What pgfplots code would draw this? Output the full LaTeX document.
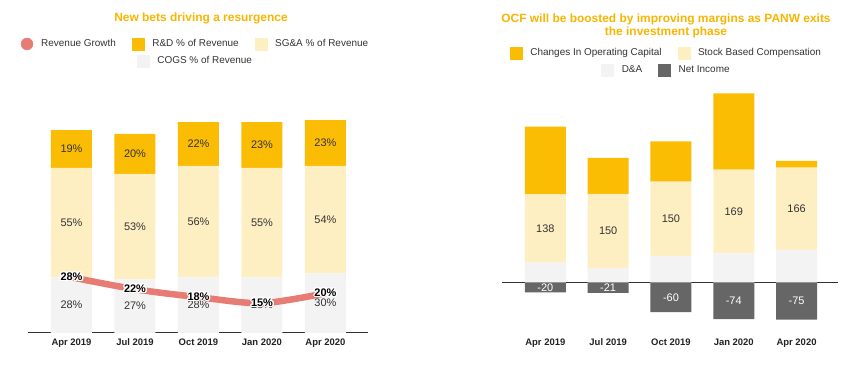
\documentclass[border=0pt]{standalone}
\usepackage{pgfplots}
\pgfplotsset{compat=1.18}
\usepackage{pgfplotstable}
\usepackage{fontspec}
\setmainfont{Liberation Sans}
\usepackage{contour}
\contourlength{1.3pt}
\contournumber{12}
\pgfkeys{/pgf/number format/assume math mode=true}

\definecolor{cYel}{HTML}{FBBC04}
\definecolor{cLight}{HTML}{FEEFC3}
\definecolor{cGray}{HTML}{F3F3F3}
\definecolor{cDark}{HTML}{666666}
\definecolor{cLine}{HTML}{E67C73}
\definecolor{cTitle}{HTML}{F7B500}
\definecolor{cText}{HTML}{333333}
\definecolor{cTick}{HTML}{222222}
\definecolor{cAxis}{HTML}{333333}

\pgfplotstableread{
x cogs sga rd growth
0 28 55 19 28
1 27 53 20 22
2 28 56 22 18
3 28 55 23 15
4 30 54 23 20
}\lefttab

\pgfplotstableread{
x da sbc opcap ni
0 40 138 137 -20
1 29 150 73 -21
2 54 150 81 -60
3 59 169 154 -74
4 66 166 14 -75
}\righttab

\tikzset{lab/.style={anchor=center, font=\fontsize{11}{13}\selectfont, text=cText}}

\pgfplotsset{
  common/.style={scale only axis, anchor=south west, enlargelimits=false, clip=false,
    /pgf/number format/assume math mode=true,
    xtick={0,1,2,3,4}, xticklabels={Apr 2019,Jul 2019,Oct 2019,Jan 2020,Apr 2020},
    major tick length=0pt, ytick=\empty,
    xticklabel style={font=\fontsize{9.5}{11}\selectfont\bfseries, text=cTick, anchor=base, yshift=-12.5bp}},
  leftax/.style={common, width=340bp, height=218.9bp, xmin=-0.685, xmax=4.67, ymin=0, ymax=110, at={(28bp,37bp)}},
  rightax/.style={common, width=336bp, height=243.5bp, xmin=-0.69, xmax=4.66, ymin=-102, ymax=390, at={(502bp,37bp)}},
  stacklab/.style={nodes near coords={\pgfmathprintnumber{\pgfplotspointmeta}#1},
    every node near coord/.append style={lab}},
  midlab/.style={visualization depends on={rawy \as \segv},
    nodes near coords={\pgfmathprintnumber{\pgfplotspointmeta}#1},
    every node near coord/.append style={lab, shift={(axis direction cs:0,-\segv/2)}}},
  legendax/.style={hide axis, scale only axis, width=1bp, height=1bp, xmin=0, xmax=1, ymin=0, ymax=1, anchor=center,
    legend cell align=left,
    legend style={draw=none, fill=none, at={(0.5,0.5)}, anchor=center,
      font=\fontsize{10}{12}\selectfont, text=cText, nodes={inner sep=0pt},
      /tikz/every odd column/.append style={column sep=8bp},
      /tikz/every even column/.append style={column sep=16bp}}},
}

\begin{document}
\begin{tikzpicture}
\useasboundingbox (0,0) rectangle (858bp,370bp);

\node[font=\fontsize{12}{14}\selectfont\bfseries, text=cTitle] at (201bp,352bp) {New bets driving a resurgence};
\node[font=\fontsize{12}{12.5}\selectfont\bfseries, text=cTitle, align=center] at (666bp,344bp) {OCF will be boosted by improving margins as PANW exits\\the investment phase};

% ---------- left chart: stacked bars
\begin{axis}[leftax, ybar stacked, bar width=41bp, axis y line=none, axis x line*=bottom,
  x axis line style={cAxis, line width=1bp, -}]
\addplot[fill=cGray, draw=none, stacklab=\%] table[x=x,y=cogs]{\lefttab};
\addplot[fill=cLight, draw=none, stacklab=\%] table[x=x,y=sga]{\lefttab};
\addplot[fill=cYel, draw=none, stacklab=\%] table[x=x,y=rd]{\lefttab};
\end{axis}

% ---------- left chart: revenue growth line
\begin{axis}[leftax, hide axis]
\addplot[cLine, line width=6.5bp, smooth, mark=none,
  nodes near coords={\contour{white}{\pgfmathprintnumber{\pgfplotspointmeta}\%}},
  every node near coord/.append style={anchor=center, font=\fontsize{11}{13}\selectfont\bfseries, text=black}]
  table[x=x,y=growth]{\lefttab};
\end{axis}

% ---------- right chart: positive stack
\begin{axis}[rightax, ybar stacked, bar width=41bp, axis line style={draw=none},
  extra y ticks={0}, extra y tick labels={}, extra y tick style={grid=major, major grid style={cAxis, line width=1bp}}]
\addplot[fill=cGray, draw=none] table[x=x,y=da]{\righttab};
\addplot[fill=cLight, draw=none, stacklab={}] table[x=x,y=sbc]{\righttab};
\addplot[fill=cYel, draw=none] table[x=x,y=opcap]{\righttab};
\end{axis}

% ---------- right chart: net income
\begin{axis}[rightax, ybar, bar width=41bp, bar shift=0pt, hide axis]
\addplot[fill=cDark, draw=none, midlab={}, every node near coord/.append style={text=white}]
  table[x=x,y=ni]{\righttab};
\end{axis}

% ---------- legends
\begin{axis}[legendax, at={(194.5bp,326bp)}, legend columns=3]
\addlegendimage{legend image code/.code={\fill[cLine] (6bp,0bp) circle (6bp);}}
\addlegendentry{Revenue Growth}
\addlegendimage{legend image code/.code={\fill[cYel] (0bp,-6bp) rectangle (12bp,6bp);}}
\addlegendentry{R\&D \% of Revenue}
\addlegendimage{legend image code/.code={\fill[cLight] (0bp,-6bp) rectangle (12bp,6bp);}}
\addlegendentry{SG\&A \% of Revenue}
\end{axis}
\begin{axis}[legendax, at={(194.5bp,309bp)}, legend columns=1]
\addlegendimage{legend image code/.code={\fill[cGray] (0bp,-6bp) rectangle (12bp,6bp);}}
\addlegendentry{COGS \% of Revenue}
\end{axis}
\begin{axis}[legendax, at={(665.5bp,317bp)}, legend columns=2]
\addlegendimage{legend image code/.code={\fill[cYel] (0bp,-6bp) rectangle (12bp,6bp);}}
\addlegendentry{Changes In Operating Capital}
\addlegendimage{legend image code/.code={\fill[cLight] (0bp,-6bp) rectangle (12bp,6bp);}}
\addlegendentry{Stock Based Compensation}
\end{axis}
\begin{axis}[legendax, at={(665.5bp,300bp)}, legend columns=2]
\addlegendimage{legend image code/.code={\fill[cGray] (0bp,-6bp) rectangle (12bp,6bp);}}
\addlegendentry{D\&A}
\addlegendimage{legend image code/.code={\fill[cDark] (0bp,-6bp) rectangle (12bp,6bp);}}
\addlegendentry{Net Income}
\end{axis}
\end{tikzpicture}
\end{document}
